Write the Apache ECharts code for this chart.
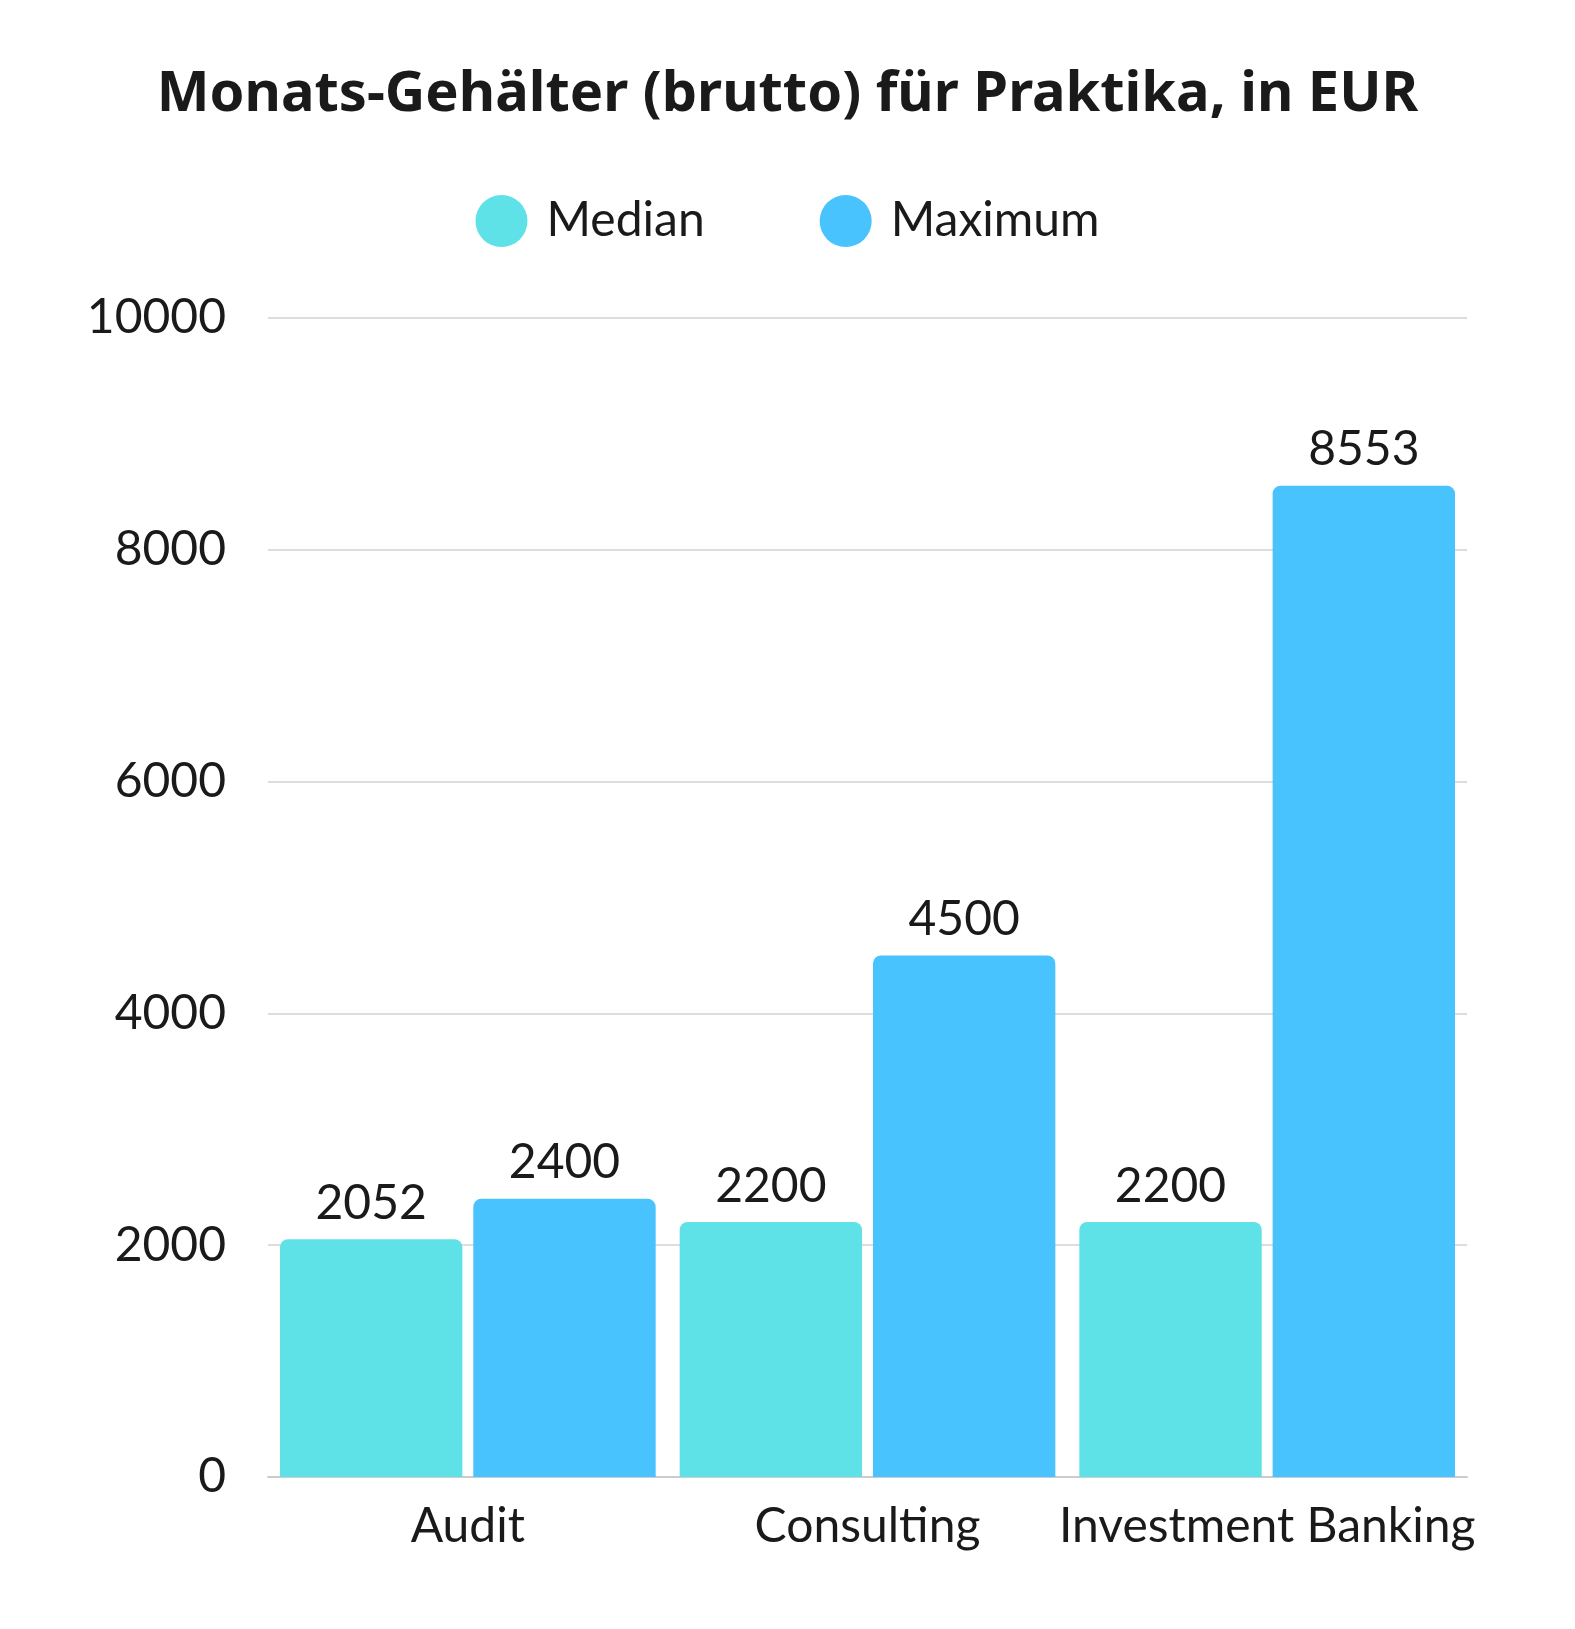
<!DOCTYPE html>
<html><head><meta charset="utf-8">
<script src="https://cdn.jsdelivr.net/npm/echarts@6/dist/echarts.min.js"></script>
<style>html,body{margin:0;padding:0;background:#fff}#c{width:1575px;height:1629px}</style>
</head><body><div id="c"></div>
<script>
const categories = ['Audit', 'Consulting', 'Investment Banking'];
const medianValues = [2052, 2200, 2200];
const maximumValues = [2400, 4500, 8553];
const seriesNames = ['Median', 'Maximum'];
const chart = echarts.init(document.getElementById('c'));
const font = 'Lato, "Noto Sans", sans-serif';
chart.setOption({
  backgroundColor: '#fff',
  title: { text: 'Monats-Gehälter (brutto) für Praktika, in EUR', left: 'center', top: 62,
    textStyle: { fontSize: 56, fontWeight: 'bold', color: '#1a1a1a', fontFamily: '"Noto Sans", sans-serif' } },
  legend: { top: 190, left: 'center', itemGap: 115, icon: 'circle', itemWidth: 52, itemHeight: 52,
    textStyle: { fontSize: 48, color: '#1a1a1a', fontFamily: font, padding: [0,0,0,14] } },
  grid: { left: 268, right: 108, top: 318, bottom: 152 },
  xAxis: { type: 'category', data: categories,
    axisLine: { lineStyle: { color: '#ccc', width: 2 } }, axisTick: { show: false },
    axisLabel: { fontSize: 48, color: '#1a1a1a', fontFamily: font, margin: 26, interval: 0 } },
  yAxis: { type: 'value', min: 0, max: 10000, interval: 2000,
    axisLabel: { fontSize: 48, color: '#1a1a1a', fontFamily: font, margin: 42, formatter: v => String(v) } },
  series: [
    { name: seriesNames[0], type: 'bar', data: medianValues, itemStyle: { color: '#5FE2E7', borderRadius: [8,8,0,0] },
      barGap: '6%', barCategoryGap: '6%',
      label: { show: true, position: 'top', fontSize: 48, color: '#1a1a1a', fontFamily: font, distance: 12 } },
    { name: seriesNames[1], type: 'bar', data: maximumValues, itemStyle: { color: '#48C3FD', borderRadius: [8,8,0,0] },
      label: { show: true, position: 'top', fontSize: 48, color: '#1a1a1a', fontFamily: font, distance: 12 } }
  ]
});
chart.setOption({ yAxis: { splitLine: { lineStyle: { color: '#ddd', width: 2 } } } });
</script></body></html>
